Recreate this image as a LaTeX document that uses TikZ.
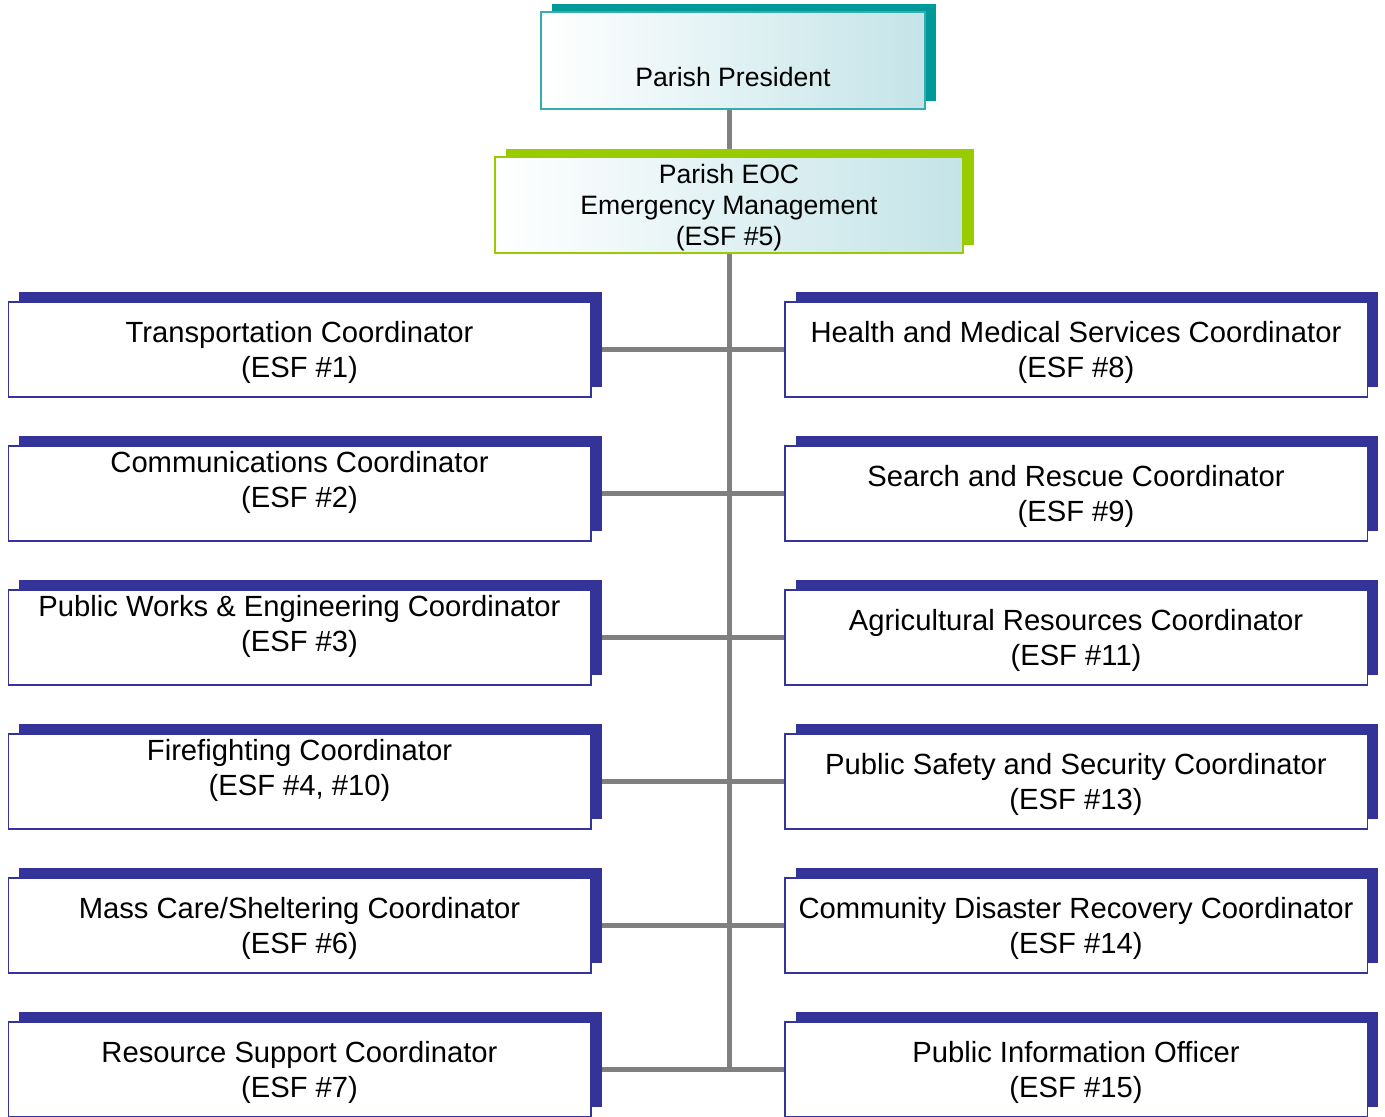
\documentclass[tikz,border=0pt]{standalone}
\usepackage{fontspec}
\setmainfont{Liberation Sans}
\usetikzlibrary{positioning,shadows,backgrounds}
\definecolor{navyblue}{RGB}{51,51,153}
\definecolor{tealshade}{RGB}{0,153,153}
\definecolor{limegreen}{RGB}{153,204,0}
\definecolor{glowteal}{RGB}{196,228,232}
\definecolor{linegray}{RGB}{128,128,128}
\tikzset{
  basebox/.style={rectangle,align=center,line width=0.75pt,fill=white,inner sep=0pt},
  topnode/.style={basebox,draw=tealshade!80,left color=white,right color=glowteal,
    minimum width=192pt,minimum height=48.5pt,font=\fontsize{13.3}{15.5}\selectfont,
    drop shadow={shadow xshift=5.5pt,shadow yshift=3.8pt,fill=tealshade,opacity=1}},
  eocnode/.style={basebox,draw=limegreen,left color=white,right color=glowteal,
    minimum width=234pt,minimum height=48pt,font=\fontsize{13.3}{15.5}\selectfont,
    text depth=0pt,
    drop shadow={shadow xshift=5.5pt,shadow yshift=4pt,fill=limegreen,opacity=1}},
  esfnode/.style={basebox,draw=navyblue,minimum width=291.25pt,minimum height=47.5pt,
    font=\fontsize{14.6}{17.5}\selectfont,text depth=0pt,
    drop shadow={shadow xshift=5.5pt,shadow yshift=5.25pt,fill=navyblue,opacity=1}},
  conn/.style={draw=linegray,line width=2.5pt}
}
\newcommand{\lift}{\\[-3pt]\mbox{}}

\begin{document}
\begin{tikzpicture}[node distance=23.75pt]
  \useasboundingbox (0,0) rectangle (692.5pt,-558pt);
  \node[topnode] (pres) at (366.5pt,-30.25pt) {\strut\\Parish President};
  \node[eocnode,below=23.25pt of pres,xshift=-2pt] (eoc) {Parish EOC\\Emergency Management\\(ESF \#5)};
  % left column
  \node[esfnode] (t1) at (149.75pt,-174.75pt) {Transportation Coordinator\\(ESF \#1)};
  \node[esfnode,below=of t1] (t2) {Communications Coordinator\\(ESF \#2)\lift};
  \node[esfnode,below=of t2] (t3) {Public Works \& Engineering Coordinator\\(ESF \#3)\lift};
  \node[esfnode,below=of t3] (t4) {Firefighting Coordinator\\(ESF \#4, \#10)\lift};
  \node[esfnode,below=of t4] (t5) {Mass Care/Sheltering Coordinator\\(ESF \#6)};
  \node[esfnode,below=of t5] (t6) {Resource Support Coordinator\\(ESF \#7)};
  % right column
  \node[esfnode,right=96.25pt of t1] (h1) {Health and Medical Services Coordinator\\(ESF \#8)};
  \node[esfnode,below=of h1] (h2) {Search and Rescue Coordinator\\(ESF \#9)};
  \node[esfnode,below=of h2] (h3) {Agricultural Resources Coordinator\\(ESF \#11)};
  \node[esfnode,below=of h3] (h4) {Public Safety and Security Coordinator\\(ESF \#13)};
  \node[esfnode,below=of h4] (h5) {Community Disaster Recovery Coordinator\\(ESF \#14)};
  \node[esfnode,below=of h5] (h6) {Public Information Officer\\(ESF \#15)};
  \begin{scope}[on background layer]
    \draw[conn] (eoc.north |- pres.south) -- (eoc.north);
    \draw[conn] (eoc.south) -- (eoc.south |- t6.east);
    \foreach \i in {1,...,6} \draw[conn] (t\i.east) -- (h\i.west);
  \end{scope}
\end{tikzpicture}
\end{document}
